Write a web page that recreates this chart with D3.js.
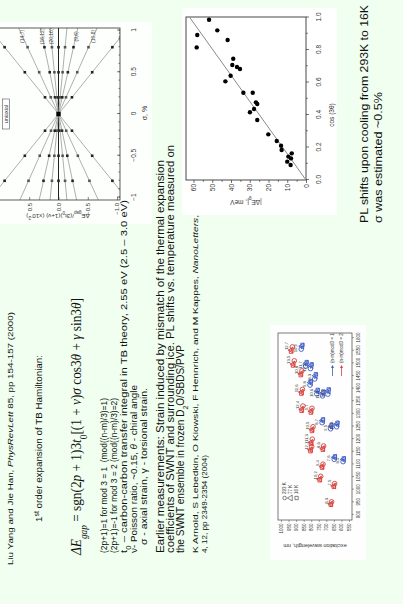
<!DOCTYPE html>
<html><head><meta charset="utf-8">
<script src="https://cdn.jsdelivr.net/npm/d3@7"></script>
<style>body{margin:0;background:#f0fff0;}svg{display:block;}</style>
</head><body>
<script>
// ---------- DATA ----------
// Fan chart (Yang & Han): slopes of dE/(3t0(1+v)) vs sigma lines, labels, marker sigmas
const fanSlopes = [1.15, 0.66, 0.30, 0.14, 0, -0.14, -0.32, -0.64, -1.15];
const fanLabels = ["", "(14,7)", "(16,12)", "(20,16)", "", "", "(9,6)", "(10,8)", "(17,0)"];
const fanMarkSigma = [-0.8, -0.5, -0.2, 0.2, 0.5, 0.8];
const fanSigmaTicks = [-1, -0.5, 0, 0.5, 1];
const fanDETicks = [-1.0, -0.5, 0.0, 0.5];

// Scatter: |dE| (meV) vs cos(3theta)
const cosVals = [0.986, 0.892, 0.816, 0.921, 0.862, 0.746, 0.708, 0.695, 0.683, 0.642, 0.607, 0.537, 0.537, 0.478, 0.468, 0.437, 0.417, 0.369, 0.281, 0.240, 0.211, 0.185, 0.164, 0.144, 0.133, 0.113, 0.092];
const meVVals = [51.7, 58.0, 58.3, 47.3, 41.8, 38.8, 39.3, 36.8, 35.2, 40.2, 43.0, 33.4, 28.4, 26.7, 26.0, 27.7, 29.9, 26.0, 20.1, 15.6, 13.3, 13.0, 7.6, 9.4, 8.0, 10.0, 8.2];
const fitSlope = 62;
const cosTicks = [0, 0.2, 0.4, 0.6, 0.8, 1.0];
const meVTicks = [0, 10, 20, 30, 40, 50, 60];

// Excitation-emission map (Arnold et al.)
const eemLabel = ["12,7","13,5","10,8","11,6","12,4","9,7","10,5","11,3","12,1","8,6","9,4","10,2","7,5","8,3",
                  "10,9","11,7","12,5","13,3","9,8","10,6","11,4","12,2","8,7","9,5","10,3","7,6","8,4"];
const eemType  = [2,2,2,2,2,2,2,2,2,2,2,2,2,2, 1,1,1,1,1,1,1,1,1,1,1,1,1];
const em293 = [1565,1510,1470,1397,1331,1322,1249,1200,1170,1173,1101,1053,1024,952, 1556,1489,1479,1438,1414,1379,1371,1378,1265,1241,1249,1120,1111];
const em77  = [1552,1497,1459,1386,1318,1311,1238,1187,1158,1163,1092,1042,1015,944, 1568,1500,1491,1451,1424,1390,1383,1391,1274,1251,1260,1128,1120];
const em16  = [1546,1491,1453,1380,1312,1305,1232,1181,1152,1158,1087,1037,1011,940, 1573,1505,1496,1457,1429,1395,1388,1397,1278,1255,1265,1132,1124];
const ex293 = [925,912,862,858,855,795,788,793,797,718,722,737,645,665, 866,837,805,777,808,763,725,690,728,672,632,648,589];
const ex77  = [931,918,867,863,861,800,793,799,803,722,727,742,649,669, 861,833,800,772,804,759,721,686,724,668,628,645,586];
const ex16  = [934,921,870,866,864,803,796,802,806,724,729,745,651,671, 858,830,797,769,802,757,719,684,722,666,626,643,584];
const emTicks = [900,950,1000,1050,1100,1150,1200,1250,1300,1350,1400,1450,1500,1550,1600];
const exTicks = [550,600,650,700,750,800,850,900,950,1000];
const tempLegend = ["293 K", "77 K", "16 K"];
const modLegend = ["(n-m)mod3 = 1", "(n-m)mod3 = 2"];

// ---------- DRAW ----------
const SANS = "'Liberation Sans', Arial, sans-serif";
const SERIF = "'Liberation Serif', 'Times New Roman', serif";
const RED = "#d8403a", BLUE = "#3f5cc4";

const svg = d3.select("body").append("svg").attr("width", 403).attr("height", 604);
svg.append("rect").attr("width", 403).attr("height", 604).attr("fill", "#f0fff0");
const slide = svg.append("g").attr("transform", "translate(0,604) rotate(-90)");
const defs = svg.append("defs");
const chartLayer = slide.append("g");
const textLayer = slide.append("g");

function rich(parent, x, y, segs, size, family, len, anchor) {
  const t = parent.append("text").attr("x", x).attr("y", y)
    .attr("font-size", size).attr("font-family", family).attr("fill", "#111");
  if (anchor) t.attr("text-anchor", anchor);
  if (len) t.attr("textLength", len).attr("lengthAdjust", "spacingAndGlyphs");
  segs.forEach(s => {
    const ts = t.append("tspan").text(s.t);
    if (s.sub) ts.attr("baseline-shift", "sub").attr("font-size", size * 0.7);
    if (s.sup) ts.attr("baseline-shift", "super").attr("font-size", size * 0.7);
    if (s.it) ts.attr("font-style", "italic");
  });
  return t;
}

// ---- text block ----
rich(textLayer, 39, 13, [{t:"Liu Yang and Jie Han, "},{t:"PhysRevLett",it:1},{t:" 85, pp 154-157 (2000)"}], 7.5, SANS, 253);
rich(textLayer, 82, 42, [{t:"1"},{t:"st",sup:1},{t:" order expansion of TB Hamiltonian:"}], 9.5, SANS, 167);
rich(textLayer, 49, 81, [{t:"ΔE",it:1},{t:"gap",sub:1,it:1},{t:" = sgn(2"},{t:"p",it:1},{t:" + 1)3"},{t:"t",it:1},{t:"0",sub:1},
  {t:"[(1 + "},{t:"ν",it:1},{t:")"},{t:"σ",it:1},{t:" cos3"},{t:"θ",it:1},{t:" + "},{t:"γ",it:1},{t:" sin3"},{t:"θ",it:1},{t:"]"}], 14, SERIF, 257);
rich(textLayer, 51, 107, [{t:"(2p+1)=1 for mod 3 = 1  (mod((n-m)/3)=1)"}], 8.5, SANS, 155).attr("xml:space","preserve");
rich(textLayer, 51, 117, [{t:"(2p+1)=-1 for mod 3 = 2 (mod((n-m)/3)=2)"}], 8.5, SANS, 155);
rich(textLayer, 51, 127, [{t:"t"},{t:"0",sub:1},{t:" – carbon-carbon transfer integral in TB theory, 2.55 eV (2.5 – 3.0 eV)"}], 9, SANS, 353);
rich(textLayer, 51, 137, [{t:"ν- Poisson ratio, ~0.15, "},{t:"θ",it:1},{t:" - chiral angle"}], 8.5, SANS, 168);
rich(textLayer, 59, 147, [{t:"σ - axial strain, γ - torsional strain."}], 8.5, SANS, 157);
rich(textLayer, 51, 164, [{t:"Earlier measurements: Strain induced by mismatch of the thermal expansion"}], 10, SANS, 393);
rich(textLayer, 51, 174, [{t:"coefficients of SWNT and surrounding ice. PL shifts vs. temperature measured on"}], 10, SANS, 408);
rich(textLayer, 51, 184, [{t:"the SWNT ensemble in frozen D"},{t:"2",sub:1},{t:"O/SBDS/PVP"}], 10, SANS, 208);
rich(textLayer, 51, 198, [{t:"K Arnold, S Lebedkin, O Kiowski, F Hennrich, and M Kappes, "},{t:"NanoLetters",it:1},{t:","}], 7, SANS, 338);
rich(textLayer, 51, 207, [{t:"4, 12, pp 2349-2354 (2004)"}], 7, SANS, 98);

rich(textLayer, 381, 368, [{t:"PL shifts upon cooling from 293K to 16K"}], 11, SANS, 218);
rich(textLayer, 381, 382, [{t:"σ was estimated ~0.5%"}], 11, SANS, 131);

// ---- fan chart ----
{
  const g = chartLayer.append("g");
  g.append("rect").attr("x", 380).attr("y", -5).attr("width", 202).attr("height", 157).attr("fill", "#fdfffd");
  const x = d3.scaleLinear().domain([-1.03, 1.03]).range([404, 576]);
  const y = d3.scaleLinear().domain([-1.05, 1.05]).range([120, -3]);
  defs.append("clipPath").attr("id", "fanclip").append("rect")
    .attr("x", 404).attr("y", -3).attr("width", 172).attr("height", 123);
  const inner = g.append("g").attr("clip-path", "url(#fanclip)");
  fanSlopes.forEach((k, i) => {
    inner.append("line").attr("x1", x(-1.03)).attr("y1", y(-1.03 * k)).attr("x2", x(1.03)).attr("y2", y(1.03 * k))
      .attr("stroke", k === 0 ? "#222" : "#999").attr("stroke-width", k === 0 ? 1 : 0.8);
    fanMarkSigma.forEach(s => {
      if (Math.abs(s * k) < 1.03) {
        inner.append("rect").attr("x", x(s) - 1.3).attr("y", y(s * k) - 1.3).attr("width", 2.6).attr("height", 2.6)
          .attr("fill", i % 2 ? "#555" : "#222");
      }
    });
    if (fanLabels[i]) {
      inner.append("text").attr("x", x(0.93)).attr("y", y(0.93 * k) + 1.7).attr("text-anchor", "middle")
        .attr("font-size", 5).attr("font-family", SANS).attr("fill", "#444").text(fanLabels[i]);
    }
  });
  inner.append("rect").attr("x", x(0) - 2.2).attr("y", y(0) - 2.2).attr("width", 4.4).attr("height", 4.4).attr("fill", "#000");
  g.append("rect").attr("x", 404).attr("y", -3).attr("width", 172).attr("height", 123)
    .attr("fill", "none").attr("stroke", "#333").attr("stroke-width", 0.8);
  // uniaxial tag
  g.append("rect").attr("x", x(0) - 15).attr("y", 2.5).attr("width", 30).attr("height", 7)
    .attr("fill", "#fff").attr("stroke", "#555").attr("stroke-width", 0.6);
  g.append("text").attr("x", x(0)).attr("y", 8).attr("text-anchor", "middle").attr("font-size", 5.5)
    .attr("font-family", SANS).attr("fill", "#333").text("uniaxial");
  const ax = g.append("g").attr("transform", "translate(0,120)")
    .call(d3.axisBottom(x).tickValues(fanSigmaTicks).tickSize(-3).tickPadding(11).tickFormat(d3.format("")));
  const axm = g.append("g").attr("transform", "translate(0,120)")
    .call(d3.axisBottom(x).tickValues(d3.range(-1, 1.01, 0.1)).tickSize(-1.5).tickFormat(""));
  const ay = g.append("g").attr("transform", "translate(404,0)")
    .call(d3.axisLeft(y).tickValues(fanDETicks).tickSize(-3).tickPadding(3).tickFormat(d3.format(".1f")));
  [ax, axm, ay].forEach(a => {
    a.select(".domain").remove();
    a.selectAll("line").attr("stroke", "#333").attr("stroke-width", 0.6);
    a.selectAll("text").attr("font-size", 6.5).attr("font-family", SANS).attr("fill", "#333");
  });
  ay.selectAll("text").attr("font-size", 6);
  g.append("text").attr("x", 491).attr("y", 147).attr("text-anchor", "middle").attr("font-size", 7)
    .attr("font-family", SANS).attr("fill", "#333").text("σ, %");
  const tt = g.append("text").attr("transform", "translate(390,58) rotate(-90)").attr("text-anchor", "middle")
    .attr("font-size", 6.2).attr("font-family", SANS).attr("fill", "#333");
  tt.append("tspan").text("ΔE");
  tt.append("tspan").attr("baseline-shift", "sub").attr("font-size", 4.5).text("gap");
  tt.append("tspan").text("/(3t");
  tt.append("tspan").attr("baseline-shift", "sub").attr("font-size", 4.5).text("0");
  tt.append("tspan").text(")(1+ν) (x10");
  tt.append("tspan").attr("baseline-shift", "super").attr("font-size", 4.5).text("-2");
  tt.append("tspan").text(")");
}

// ---- scatter ----
{
  const g = chartLayer.append("g");
  g.append("rect").attr("x", 389).attr("y", 182).attr("width", 207).attr("height", 155).attr("fill", "#fff");
  const x = d3.scaleLinear().domain([0, 1]).range([424, 586.5]);
  const y = d3.scaleLinear().domain([0, 64]).range([306, 186]);
  g.append("rect").attr("x", 424).attr("y", 186).attr("width", 163).attr("height", 120)
    .attr("fill", "none").attr("stroke", "#333").attr("stroke-width", 0.9);
  g.append("line").attr("x1", x(0)).attr("y1", y(0)).attr("x2", x(1)).attr("y2", y(fitSlope))
    .attr("stroke", "#8a8a8a").attr("stroke-width", 1);
  g.selectAll("circle.p").data(cosVals).join("circle").attr("class", "p")
    .attr("cx", d => x(d)).attr("cy", (d, i) => y(meVVals[i])).attr("r", 2.2).attr("fill", "#000");
  const ax = g.append("g").attr("transform", "translate(0,306)")
    .call(d3.axisBottom(x).tickValues(cosTicks).tickSize(3).tickPadding(7).tickFormat(d3.format(".1f")));
  const axm = g.append("g").attr("transform", "translate(0,306)")
    .call(d3.axisBottom(x).tickValues(d3.range(0.1, 1, 0.2)).tickSize(1.8).tickFormat(""));
  const ay = g.append("g").attr("transform", "translate(424,0)")
    .call(d3.axisLeft(y).tickValues(meVTicks).tickSize(3).tickPadding(1).tickFormat(d3.format("d")));
  const aym = g.append("g").attr("transform", "translate(424,0)")
    .call(d3.axisLeft(y).tickValues(d3.range(5, 64, 10)).tickSize(1.8).tickFormat(""));
  [ax, axm, ay, aym].forEach(a => {
    a.select(".domain").remove();
    a.selectAll("line").attr("stroke", "#333").attr("stroke-width", 0.7);
    a.selectAll("text").attr("font-size", 6.5).attr("font-family", SANS).attr("fill", "#333");
  });
  g.append("text").attr("x", 489).attr("y", 334).attr("text-anchor", "middle").attr("font-size", 6.5)
    .attr("font-family", SANS).attr("fill", "#333").text("cos (3θ)");
  const tt = g.append("text").attr("transform", "translate(404,246) rotate(-90)").attr("text-anchor", "middle")
    .attr("font-size", 6.5).attr("font-family", SANS).attr("fill", "#333");
  tt.append("tspan").text("|ΔE");
  tt.append("tspan").attr("baseline-shift", "sub").attr("font-size", 4.5).text("g");
  tt.append("tspan").text("|, meV");
}

// ---- excitation-emission map ----
{
  const g = chartLayer.append("g");
  g.append("rect").attr("x", 44).attr("y", 270).attr("width", 235).attr("height", 96).attr("fill", "#fdfefd");
  const x = d3.scaleLinear().domain([880, 1620]).range([84, 271]);
  const y = d3.scaleLinear().domain([530, 1020]).range([352, 278]);
  g.append("rect").attr("x", 84).attr("y", 278).attr("width", 187).attr("height", 74)
    .attr("fill", "none").attr("stroke", "#444").attr("stroke-width", 0.7);
  const tri = d3.symbol().type(d3.symbolTriangle).size(14);
  const sq = d3.symbol().type(d3.symbolSquare).size(11);
  eemLabel.forEach((lab, i) => {
    const c = eemType[i] === 1 ? BLUE : RED;
    const p = d3.path();
    p.moveTo(x(em293[i]), y(ex293[i])); p.lineTo(x(em77[i]), y(ex77[i])); p.lineTo(x(em16[i]), y(ex16[i]));
    g.append("path").attr("d", p.toString()).attr("fill", "none").attr("stroke", c).attr("stroke-width", 0.9);
    g.append("circle").attr("cx", x(em293[i])).attr("cy", y(ex293[i])).attr("r", 2.3)
      .attr("fill", "none").attr("stroke", c).attr("stroke-width", 0.9);
    g.append("path").attr("d", tri).attr("transform", `translate(${x(em77[i])},${y(ex77[i])})`)
      .attr("fill", "none").attr("stroke", c).attr("stroke-width", 0.9);
    g.append("path").attr("d", sq).attr("transform", `translate(${x(em16[i])},${y(ex16[i])})`)
      .attr("fill", "none").attr("stroke", c).attr("stroke-width", 0.9);
    g.append("text").attr("x", x(em293[i]) + 1).attr("y", y(ex293[i]) - 4).attr("text-anchor", "middle")
      .attr("font-size", 4.2).attr("font-family", SANS).attr("fill", "#333").text(lab);
  });
  const ax = g.append("g").attr("transform", "translate(0,352)")
    .call(d3.axisBottom(x).tickValues(emTicks).tickSize(2).tickPadding(3).tickFormat(d3.format("d")));
  const ay = g.append("g").attr("transform", "translate(84,0)")
    .call(d3.axisLeft(y).tickValues(exTicks).tickSize(2).tickPadding(1.5).tickFormat(d3.format("d")));
  [ax, ay].forEach(a => {
    a.select(".domain").remove();
    a.selectAll("line").attr("stroke", "#444").attr("stroke-width", 0.5);
    a.selectAll("text").attr("font-size", 4.5).attr("font-family", SANS).attr("fill", "#333");
  });
  g.append("text").attr("transform", "translate(60,315) rotate(-90)").attr("text-anchor", "middle")
    .attr("font-size", 5.5).attr("font-family", SANS).attr("fill", "#333").text("excitation wavelength, nm");
  // temperature legend
  const syms = [null, tri, sq];
  tempLegend.forEach((t, i) => {
    const yy = 286 + i * 6;
    if (i === 0) g.append("circle").attr("cx", 106).attr("cy", yy - 1.4).attr("r", 1.8).attr("fill", "none").attr("stroke", "#333").attr("stroke-width", 0.6);
    else g.append("path").attr("d", syms[i]).attr("transform", `translate(106,${yy - 1.4})`).attr("fill", "none").attr("stroke", "#333").attr("stroke-width", 0.6);
    g.append("text").attr("x", 110).attr("y", yy).attr("font-size", 4.5).attr("font-family", SANS).attr("fill", "#333").text(t);
  });
  // family legend
  modLegend.forEach((t, i) => {
    const yy = 334 + i * 9;
    const c = i === 0 ? BLUE : RED;
    g.append("line").attr("x1", 228).attr("y1", yy - 1.5).attr("x2", 236).attr("y2", yy - 1.5).attr("stroke", c).attr("stroke-width", 0.8);
    g.append("path").attr("d", `M236,${yy - 3}L239,${yy - 1.5}L236,${yy}Z`).attr("fill", c);
    g.append("text").attr("x", 241).attr("y", yy).attr("font-size", 4.5).attr("font-family", SANS).attr("fill", "#333").text(t);
  });
}
</script>
</body></html>
